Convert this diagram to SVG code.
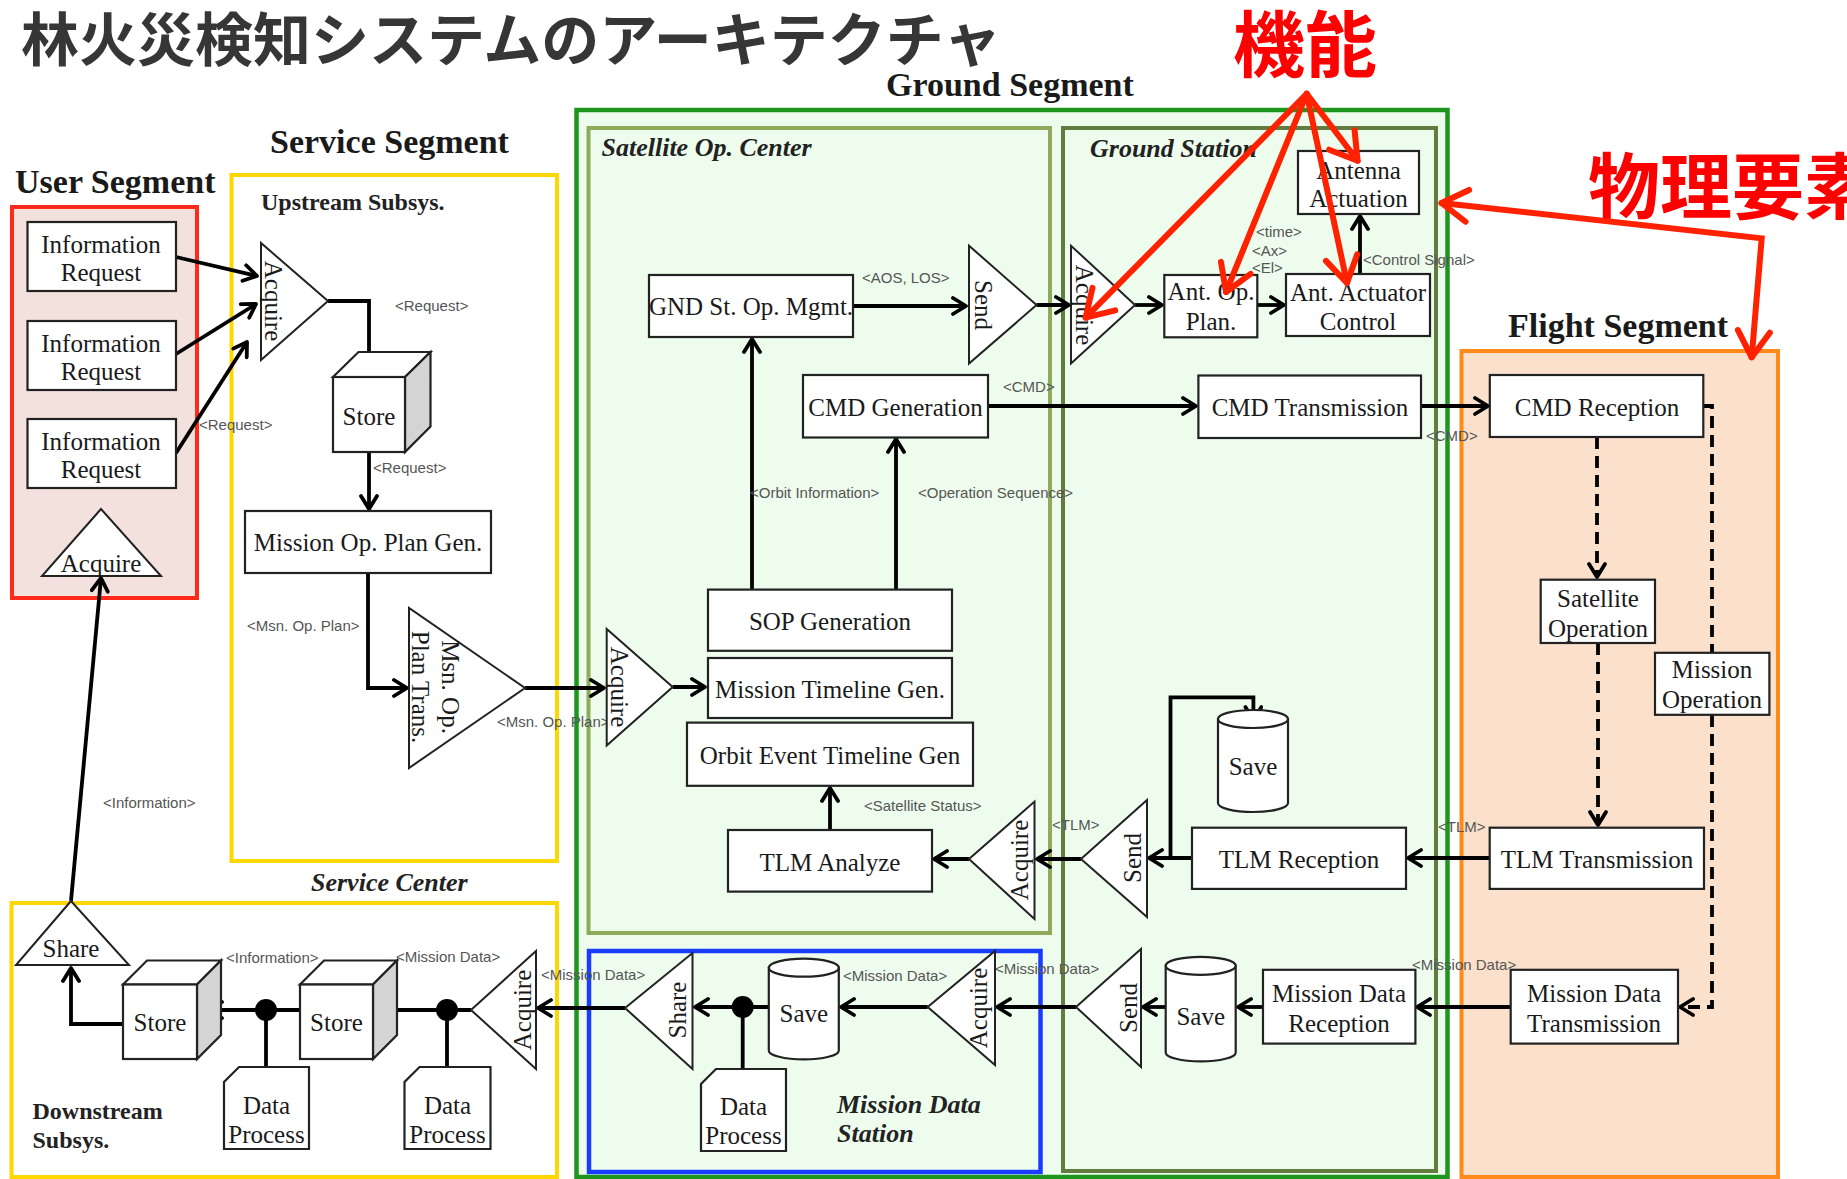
<svg xmlns="http://www.w3.org/2000/svg" width="1847" height="1179" viewBox="0 0 1847 1179">
<defs>
<style>
.box{fill:#fff;stroke:#222;stroke-width:2.2}
.tri{fill:#fff;stroke:#222;stroke-width:2}
.side{fill:#d4d4d4;stroke:#222;stroke-width:2.2}
.t{font-family:"Liberation Serif",serif;font-size:25px;fill:#1a1a1a;text-anchor:middle}
.lbl{font-family:"Liberation Sans",sans-serif;font-size:15px;fill:#555}
.seg{font-family:"Liberation Serif",serif;font-weight:bold;font-size:34px;fill:#1a1a1a}
.sub{font-family:"Liberation Serif",serif;font-weight:bold;font-style:italic;font-size:26px;fill:#222}
.subb{font-family:"Liberation Serif",serif;font-weight:bold;font-size:24px;fill:#222}
.c{fill:none;stroke:#000;stroke-width:3.8;marker-end:url(#ah)}
.p{fill:none;stroke:#000;stroke-width:3.8}
.d{fill:none;stroke:#000;stroke-width:3.8;stroke-dasharray:12 7}
.r{fill:none;stroke:#ff2200;stroke-width:6;stroke-linecap:round;marker-end:url(#rh)}
.jp{font-family:"Noto Sans CJK JP","Noto Sans CJK SC",sans-serif;font-weight:bold}
</style>
<marker id="ah" markerUnits="userSpaceOnUse" markerWidth="20" markerHeight="20" viewBox="0 0 20 20" refX="17" refY="10" orient="auto">
<path d="M4,2 L17,10 L4,18" fill="none" stroke="#000" stroke-width="3.8" stroke-linecap="round" stroke-linejoin="round"/>
</marker>
<marker id="rh" markerUnits="userSpaceOnUse" markerWidth="40" markerHeight="40" viewBox="0 0 40 40" refX="34" refY="20" orient="auto-start-reverse">
<path d="M8,4 L34,20 L8,36" fill="none" stroke="#ff2200" stroke-width="6" stroke-linecap="round" stroke-linejoin="round"/>
</marker>
</defs>
<rect width="1847" height="1179" fill="#fff"/>

<!-- titles -->
<text class="jp" x="21" y="61" font-size="58" fill="#363636">林火災検知システムのアーキテクチャ</text>
<text class="jp" x="1233" y="71" font-size="72" fill="#ff0000">機能</text>
<text class="jp" x="1588" y="213" font-size="72" fill="#ff0000">物理要素</text>

<!-- containers -->
<g id="user-segment">
<rect x="12" y="207" width="185" height="391" fill="#f2e1dd" stroke="#ff2a1a" stroke-width="4"/>
<text class="seg" x="15" y="193">User Segment</text>
</g>
<g id="service-segment">
<rect x="231.5" y="175" width="325.5" height="686" fill="#fff" stroke="#ffd700" stroke-width="4"/>
<text class="seg" x="270" y="153">Service Segment</text>
<text class="subb" x="261" y="210">Upstream Subsys.</text>
</g>
<g id="service-center">
<rect x="11.5" y="903" width="545.5" height="274" fill="#fff" stroke="#ffd700" stroke-width="4"/>
<text class="sub" x="311" y="891">Service Center</text>
<text class="subb" x="32.5" y="1119">Downstream</text>
<text class="subb" x="32.5" y="1148">Subsys.</text>
</g>
<g id="ground-segment">
<rect x="576.5" y="110" width="871" height="1067" fill="#edfced" stroke="#1e961e" stroke-width="4.5"/>
<text class="seg" x="886" y="96">Ground Segment</text>
</g>
<g id="satellite-op-center">
<rect x="588.5" y="128" width="461.5" height="805" fill="#edfced" stroke="#8fab5a" stroke-width="4"/>
<text class="sub" x="601.5" y="156">Satellite Op. Center</text>
</g>
<g id="ground-station">
<rect x="1063" y="128" width="373" height="1043" fill="#edfced" stroke="#607c3e" stroke-width="4"/>
<text class="sub" x="1090" y="157">Ground Station</text>
</g>
<g id="mission-data-station">
<rect x="589" y="951" width="451.5" height="221" fill="#edfced" stroke="#1a3cff" stroke-width="4.5"/>
<text class="sub" x="837" y="1113">Mission Data</text>
<text class="sub" x="837" y="1142">Station</text>
</g>
<g id="flight-segment">
<rect x="1461.5" y="351" width="316.5" height="826" fill="#fbe1cb" stroke="#ff8a1a" stroke-width="4"/>
<text class="seg" x="1508" y="337">Flight Segment</text>
</g>

<!-- connectors -->
<g id="connectors">
<path class="c" d="M176,257 L257,276"/>
<path class="c" d="M176,354 L256,304"/>
<path class="c" d="M176,453 L247,342"/>
<path class="c" d="M328,301 H369 V374"/>
<path class="c" d="M369,452 V509"/>
<path class="c" d="M368,573 V688 H407"/>
<path class="c" d="M525,688 H604"/>
<path class="c" d="M672.7,687 H705"/>
<path class="c" d="M752,589.6 V339"/>
<path class="c" d="M896,589.6 V439"/>
<path class="c" d="M853,306 H966"/>
<path class="c" d="M1036.5,305 H1069"/>
<path class="c" d="M1135,305 H1162"/>
<path class="c" d="M1257,305 H1284"/>
<path class="c" d="M1360,274 V216"/>
<path class="c" d="M988,406 H1196"/>
<path class="c" d="M1421,406 H1488"/>
<path class="d" d="M1597,437 V577" marker-end="url(#ah)"/>
<path class="d" d="M1598,643 V825" marker-end="url(#ah)"/>
<path class="d" d="M1703,406 H1712 V652.8"/>
<path class="d" d="M1712,715 V1007 H1680" marker-end="url(#ah)"/>
<path class="c" d="M1489.7,858 H1408"/>
<path class="c" d="M1192,858 H1149"/>
<path class="c" d="M1170.5,858 V697.4 H1253.4 V720"/>
<path class="c" d="M1081,859 H1037"/>
<path class="c" d="M969,859 H934"/>
<path class="c" d="M830,830 V788"/>
<path class="c" d="M1510.7,1007 H1417"/>
<path class="c" d="M1263,1007 H1238"/>
<path class="c" d="M1165.7,1007 H1143"/>
<path class="c" d="M1076,1007 H997"/>
<path class="c" d="M927.7,1007 H841"/>
<path class="c" d="M768.8,1007 H695"/>
<path class="p" d="M742.7,1007 V1069"/>
<circle cx="742.7" cy="1007" r="11" fill="#000"/>
<path class="c" d="M625,1008 H538"/>
<path class="c" d="M471,1010 H377"/>
<path class="p" d="M447,1010 V1067"/>
<circle cx="447" cy="1010" r="11" fill="#000"/>
<path class="c" d="M300,1010 H209"/>
<path class="p" d="M266,1010 V1067"/>
<circle cx="266" cy="1010" r="11" fill="#000"/>
<path class="c" d="M123,1024 H71 V968"/>
<path class="c" d="M71,901 L101,578"/>
</g>

<!-- edge labels -->
<g id="labels">
<text class="lbl" x="395" y="311">&lt;Request&gt;</text>
<text class="lbl" x="199" y="430">&lt;Request&gt;</text>
<text class="lbl" x="373" y="473">&lt;Request&gt;</text>
<text class="lbl" x="247" y="631">&lt;Msn. Op. Plan&gt;</text>
<text class="lbl" x="497" y="727">&lt;Msn. Op. Plan&gt;</text>
<text class="lbl" x="103" y="808">&lt;Information&gt;</text>
<text class="lbl" x="226" y="963">&lt;Information&gt;</text>
<text class="lbl" x="396" y="962">&lt;Mission Data&gt;</text>
<text class="lbl" x="541" y="980">&lt;Mission Data&gt;</text>
<text class="lbl" x="862" y="283">&lt;AOS, LOS&gt;</text>
<text class="lbl" x="1003" y="392">&lt;CMD&gt;</text>
<text class="lbl" x="750" y="498">&lt;Orbit Information&gt;</text>
<text class="lbl" x="918" y="498">&lt;Operation Sequence&gt;</text>
<text class="lbl" x="864" y="811">&lt;Satellite Status&gt;</text>
<text class="lbl" x="1052" y="830">&lt;TLM&gt;</text>
<text class="lbl" x="843" y="981">&lt;Mission Data&gt;</text>
<text class="lbl" x="995" y="974">&lt;Mission Data&gt;</text>
<text class="lbl" x="1256" y="237">&lt;time&gt;</text>
<text class="lbl" x="1252" y="256">&lt;Ax&gt;</text>
<text class="lbl" x="1252" y="273">&lt;El&gt;</text>
<text class="lbl" x="1363" y="265">&lt;Control Signal&gt;</text>
<text class="lbl" x="1426" y="441">&lt;CMD&gt;</text>
<text class="lbl" x="1438" y="832">&lt;TLM&gt;</text>
<text class="lbl" x="1412" y="970">&lt;Mission Data&gt;</text>
</g>

<!-- nodes: user segment -->
<g id="info-req-1"><rect class="box" x="27.5" y="222" width="148.5" height="69"/><text class="t" x="101" y="252.5">Information</text><text class="t" x="101" y="281">Request</text></g>
<g id="info-req-2"><rect class="box" x="27.5" y="321" width="148.5" height="69"/><text class="t" x="101" y="351.5">Information</text><text class="t" x="101" y="380">Request</text></g>
<g id="info-req-3"><rect class="box" x="27.5" y="419" width="148.5" height="69"/><text class="t" x="101" y="449.5">Information</text><text class="t" x="101" y="478">Request</text></g>
<g id="user-acquire"><polygon class="tri" points="101,509 42,576 161,576"/><text class="t" x="101" y="572">Acquire</text></g>

<!-- upstream -->
<g id="up-acquire"><polygon class="tri" points="261,243 261,360 328,301"/><text class="t" transform="translate(273,301) rotate(90)" y="8">Acquire</text></g>
<g id="up-store"><polygon class="box" points="333,377 358.5,352 430.5,352 405,377"/><polygon class="side" points="405,377 430.5,352 430.5,426.5 405,452"/><rect class="box" x="333" y="377" width="72" height="75"/><text class="t" x="369" y="425">Store</text></g>
<g id="mission-op-plan-gen"><rect class="box" x="245" y="511" width="246" height="62"/><text class="t" x="368" y="551">Mission Op. Plan Gen.</text></g>
<g id="msn-op-plan-trans"><polygon class="tri" points="409,608 409,768 525,688"/><g transform="translate(430,687) rotate(90)"><text class="t" x="0" y="-12">Msn. Op.</text><text class="t" x="0" y="18">Plan Trans.</text></g></g>

<!-- downstream -->
<g id="ds-share"><polygon class="tri" points="71,901 16,965 129,965"/><text class="t" x="71" y="957">Share</text></g>
<g id="ds-store-1"><polygon class="box" points="123,984.5 147,960.5 221,960.5 197,984.5"/><polygon class="side" points="197,984.5 221,960.5 221,1035 197,1059"/><rect class="box" x="123" y="984.5" width="74" height="74.5"/><text class="t" x="160" y="1031">Store</text></g>
<g id="ds-store-2"><polygon class="box" points="300,984.5 324,960.5 397,960.5 373,984.5"/><polygon class="side" points="373,984.5 397,960.5 397,1035 373,1059"/><rect class="box" x="300" y="984.5" width="73" height="74.5"/><text class="t" x="336.5" y="1031">Store</text></g>
<g id="ds-data-process-1"><path class="box" d="M239,1067 H309 V1149 H224 V1082 Z"/><text class="t" x="266.5" y="1114">Data</text><text class="t" x="266.5" y="1143">Process</text></g>
<g id="ds-data-process-2"><path class="box" d="M419.5,1067 H490.5 V1149 H404.5 V1082 Z"/><text class="t" x="447.5" y="1114">Data</text><text class="t" x="447.5" y="1143">Process</text></g>
<g id="ds-acquire"><polygon class="tri" points="536,951 536,1069 471,1010"/><text class="t" transform="translate(523,1010) rotate(-90)" y="8">Acquire</text></g>

<!-- satellite op center -->
<g id="gnd-st-op-mgmt"><rect class="box" x="649" y="275" width="204" height="62"/><text class="t" x="751" y="315">GND St. Op. Mgmt.</text></g>
<g id="soc-send"><polygon class="tri" points="969,245.7 969,363.6 1036.5,305"/><text class="t" transform="translate(983,305) rotate(90)" y="8">Send</text></g>
<g id="cmd-generation"><rect class="box" x="803" y="375" width="185" height="62.5"/><text class="t" x="895.5" y="416">CMD Generation</text></g>
<g id="soc-acquire"><polygon class="tri" points="606.7,629 606.7,745.5 672.7,687"/><text class="t" transform="translate(619,687) rotate(90)" y="8">Acquire</text></g>
<g id="sop-generation"><rect class="box" x="708" y="589.6" width="244" height="61.2"/><text class="t" x="830" y="630">SOP Generation</text></g>
<g id="mission-timeline-gen"><rect class="box" x="708" y="658" width="244" height="60"/><text class="t" x="830" y="697.5">Mission Timeline Gen.</text></g>
<g id="orbit-event-timeline-gen"><rect class="box" x="687" y="722.6" width="286" height="63.2"/><text class="t" x="830" y="763.5">Orbit Event Timeline Gen</text></g>
<g id="tlm-analyze"><rect class="box" x="728" y="830" width="204" height="61.6"/><text class="t" x="830" y="870.5">TLM Analyze</text></g>
<g id="soc-tlm-acquire"><polygon class="tri" points="1034.5,801.6 1034.5,919 969,859"/><text class="t" transform="translate(1020,860) rotate(-90)" y="8">Acquire</text></g>

<!-- mission data station -->
<g id="mds-share"><polygon class="tri" points="692.5,953 692.5,1069 625,1008"/><text class="t" transform="translate(678,1010) rotate(-90)" y="8">Share</text></g>
<g id="mds-save"><path class="box" d="M768.8,967.7 V1050.4 A35,9 0 0 0 838.8,1050.4 V967.7 Z"/><ellipse class="box" cx="803.8" cy="967.7" rx="35" ry="9"/><text class="t" x="803.8" y="1022">Save</text></g>
<g id="mds-data-process"><path class="box" d="M716,1069 H786 V1151 H701 V1084 Z"/><text class="t" x="743.5" y="1115">Data</text><text class="t" x="743.5" y="1144">Process</text></g>
<g id="mds-acquire"><polygon class="tri" points="995,951 995,1065 927.7,1007"/><text class="t" transform="translate(979,1008) rotate(-90)" y="8">Acquire</text></g>

<!-- ground station -->
<g id="gs-acquire"><polygon class="tri" points="1071,245.7 1071,363.6 1135,305"/><text class="t" transform="translate(1084,305) rotate(90)" y="8">Acquire</text></g>
<g id="antenna-actuation"><rect class="box" x="1298" y="151" width="121" height="63"/><text class="t" x="1358.5" y="179">Antenna</text><text class="t" x="1358.5" y="207">Actuation</text></g>
<g id="ant-op-plan"><rect class="box" x="1164.3" y="275" width="93" height="62.3"/><text class="t" x="1211" y="300">Ant. Op.</text><text class="t" x="1211" y="330">Plan.</text></g>
<g id="ant-actuator-control"><rect class="box" x="1286" y="274" width="144" height="62"/><text class="t" x="1358" y="301">Ant. Actuator</text><text class="t" x="1358" y="330">Control</text></g>
<g id="cmd-transmission"><rect class="box" x="1198.4" y="375.5" width="222.6" height="62.5"/><text class="t" x="1310" y="416">CMD Transmission</text></g>
<g id="gs-tlm-save"><path class="box" d="M1218,719 V803 A35,9 0 0 0 1288,803 V719 Z"/><ellipse class="box" cx="1253" cy="719" rx="35" ry="9"/><text class="t" x="1253" y="775">Save</text></g>
<g id="tlm-reception"><rect class="box" x="1192" y="827.7" width="214" height="61.2"/><text class="t" x="1299" y="867.5">TLM Reception</text></g>
<g id="gs-tlm-send"><polygon class="tri" points="1147,800 1147,917 1081,859"/><text class="t" transform="translate(1133,858) rotate(-90)" y="8">Send</text></g>
<g id="mission-data-reception"><rect class="box" x="1263" y="969.8" width="152.4" height="73.8"/><text class="t" x="1339" y="1002">Mission Data</text><text class="t" x="1339" y="1032">Reception</text></g>
<g id="gs-md-save"><path class="box" d="M1165.7,965.8 V1052.4 A35,9 0 0 0 1235.7,1052.4 V965.8 Z"/><ellipse class="box" cx="1200.7" cy="965.8" rx="35" ry="9"/><text class="t" x="1200.7" y="1025">Save</text></g>
<g id="gs-md-send"><polygon class="tri" points="1141,949 1141,1067 1076,1007"/><text class="t" transform="translate(1129,1008) rotate(-90)" y="8">Send</text></g>

<!-- flight segment -->
<g id="cmd-reception"><rect class="box" x="1489.8" y="375" width="213.5" height="62"/><text class="t" x="1597" y="415.5">CMD Reception</text></g>
<g id="satellite-operation"><rect class="box" x="1540.7" y="579.7" width="114.3" height="63.3"/><text class="t" x="1598" y="607" font-size="24">Satellite</text><text class="t" x="1598" y="637" font-size="24">Operation</text></g>
<g id="mission-operation"><rect class="box" x="1655" y="652.8" width="114.4" height="62"/><text class="t" x="1712" y="678" font-size="24">Mission</text><text class="t" x="1712" y="708" font-size="24">Operation</text></g>
<g id="tlm-transmission"><rect class="box" x="1489.7" y="827.7" width="214.3" height="61.2"/><text class="t" x="1597" y="867.5">TLM Transmission</text></g>
<g id="mission-data-transmission"><rect class="box" x="1510.7" y="969.8" width="167.3" height="73.8"/><text class="t" x="1594" y="1002">Mission Data</text><text class="t" x="1594" y="1032">Transmission</text></g>

<!-- red annotation arrows -->
<g id="annotations">
<path class="r" d="M1306.7,93.8 L1085.6,317.6"/>
<path class="r" d="M1306.7,93.8 L1226,292"/>
<path class="r" d="M1306.7,93.8 L1347,283"/>
<path class="r" d="M1306.7,93.8 L1357.6,160.7"/>
<path class="r" d="M1441.5,203 L1761.7,238.3 L1751.7,357.3" marker-start="url(#rh)"/>
</g>
</svg>
